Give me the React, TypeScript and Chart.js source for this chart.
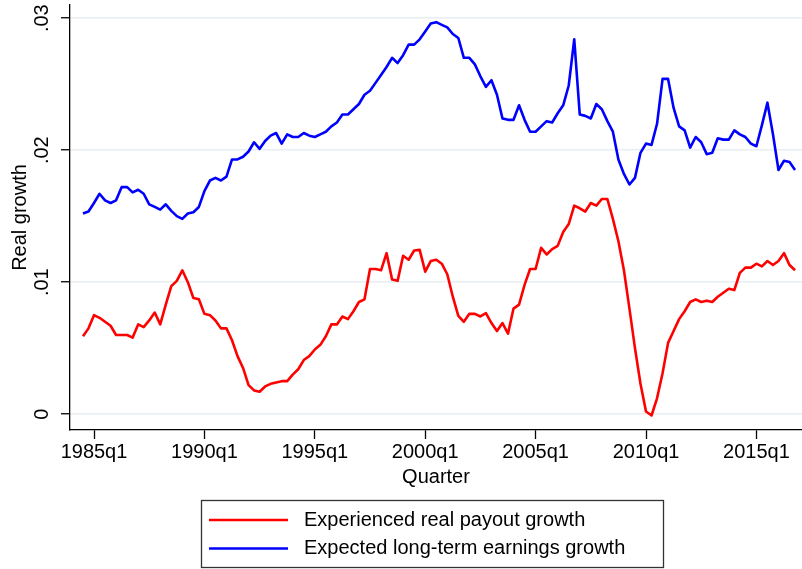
import { useEffect, useRef } from 'react';
import { Chart, registerables } from 'chart.js';

Chart.register(...registerables);

// Categories: quarters 1984q3 .. 2016q4
const FIRST_YEAR = 1984;
const FIRST_QUARTER = 3;
const N_QUARTERS = 130;
const quarters: string[] = [];
for (let i = 0; i < N_QUARTERS; i++) {
  const t = FIRST_QUARTER - 1 + i;
  quarters.push(`${FIRST_YEAR + Math.floor(t / 4)}q${(t % 4) + 1}`);
}

const payoutGrowth = [
  0.0059, 0.0065, 0.0075, 0.0073, 0.0070, 0.0067, 0.0060, 0.0060, 0.0060, 0.0058,
  0.0068, 0.0066, 0.0071, 0.0077, 0.0068, 0.0083, 0.0097, 0.0101, 0.0109, 0.0100,
  0.0088, 0.0087, 0.0076, 0.0075, 0.0071, 0.0065, 0.0065, 0.0056, 0.0044, 0.0035,
  0.0022, 0.0018, 0.0017, 0.0021, 0.0023, 0.0024, 0.0025, 0.0025, 0.0030, 0.0034,
  0.0041, 0.0044, 0.0049, 0.00525, 0.0059, 0.0068, 0.0068, 0.0074, 0.0072, 0.0078,
  0.0085, 0.0087, 0.0110, 0.0110, 0.0109, 0.0122, 0.0102, 0.0101, 0.0120, 0.0117,
  0.0124, 0.01245, 0.0108, 0.0116, 0.0117, 0.0114, 0.0106, 0.0089, 0.00745, 0.0070,
  0.0076, 0.0076, 0.0074, 0.00765, 0.0069, 0.0063, 0.0069, 0.0061, 0.0080, 0.0083,
  0.0098, 0.0110, 0.0110, 0.0126, 0.0121, 0.0125, 0.01275, 0.0138, 0.0144, 0.0158,
  0.0156, 0.01535, 0.0160, 0.0158, 0.0163, 0.0163, 0.0148, 0.0131, 0.0109, 0.0080,
  0.0050, 0.0023, 0.0002, -0.0001, 0.0012, 0.0031, 0.0054, 0.0063, 0.0072, 0.0078,
  0.0085, 0.0087, 0.0085, 0.0086, 0.0085, 0.0089, 0.0092, 0.0095, 0.0094, 0.0107,
  0.0111, 0.0111, 0.0114, 0.0112, 0.0116, 0.0113, 0.0116, 0.0122, 0.0113, 0.0109,
];

const earningsGrowth = [
  0.0152, 0.01535, 0.0160, 0.0167, 0.0162, 0.0160, 0.0162, 0.0172, 0.0172, 0.0168,
  0.0170, 0.0167, 0.0159, 0.0157, 0.0155, 0.0159, 0.0154, 0.0150, 0.0148, 0.0152,
  0.0153, 0.0157, 0.0169, 0.0177, 0.0179, 0.0177, 0.0180, 0.0193, 0.0193, 0.0195,
  0.0199, 0.0206, 0.0201, 0.0207, 0.0211, 0.0213, 0.0205, 0.0212, 0.0210, 0.0210,
  0.0213, 0.0211, 0.0210, 0.0212, 0.0214, 0.0218, 0.0221, 0.0227, 0.0227, 0.0231,
  0.0235, 0.0242, 0.0245, 0.0251, 0.0257, 0.0263, 0.0270, 0.0266, 0.0272, 0.0280,
  0.0280, 0.0284, 0.0290, 0.0296, 0.0297, 0.0295, 0.0293, 0.0288, 0.0285, 0.0270,
  0.0270, 0.0265, 0.0256, 0.0248, 0.0253, 0.0242, 0.0224, 0.0223, 0.0223, 0.0234,
  0.0223, 0.0214, 0.0214, 0.0218, 0.0222, 0.0221, 0.0228, 0.0234, 0.0249, 0.0284,
  0.0227, 0.0226, 0.0224, 0.0235, 0.0231, 0.0222, 0.0214, 0.0193, 0.0182, 0.0174,
  0.0179, 0.0198, 0.0205, 0.0204, 0.0220, 0.0254, 0.0254, 0.0232, 0.0218, 0.0215,
  0.0202, 0.0210, 0.0206, 0.0197, 0.0198, 0.0209, 0.0208, 0.0208, 0.0215, 0.0212,
  0.0210, 0.0205, 0.0203, 0.0219, 0.0236, 0.0212, 0.0185, 0.0192, 0.0191, 0.0185,
];

const xTickLabels = ['1985q1', '1990q1', '1995q1', '2000q1', '2005q1', '2010q1', '2015q1'];
const yTickValues = [0, 0.01, 0.02, 0.03];
const yTickLabels = ['0', '.01', '.02', '.03'];

const seriesLabels = ['Experienced real payout growth', 'Expected long-term earnings growth'];
const seriesColors = ['#ff0000', '#0000ff'];

const FONT_FAMILY = '"Liberation Sans", Arial, Helvetica, sans-serif';

function quarterToNum(s: string): number {
  const [y, q] = s.split('q');
  return Number(y) + (Number(q) - 1) / 4;
}

const boxLegend = {
  id: 'boxLegend',
  afterDraw(chart: any) {
    const ctx = chart.ctx as CanvasRenderingContext2D;
    ctx.save();
    ctx.strokeStyle = '#333333';
    ctx.lineWidth = 1.3;
    ctx.strokeRect(201.5, 500.5, 462, 67);
    chart.data.datasets.forEach((ds: any, i: number) => {
      const y = 520 + i * 28.5;
      ctx.strokeStyle = ds.borderColor;
      ctx.lineWidth = 2.6;
      ctx.beginPath();
      ctx.moveTo(209, y);
      ctx.lineTo(288, y);
      ctx.stroke();
      ctx.fillStyle = '#000000';
      ctx.font = `20px ${FONT_FAMILY}`;
      ctx.textBaseline = 'middle';
      ctx.textAlign = 'left';
      ctx.fillText(ds.label, 304, y);
    });
    ctx.restore();
  },
};

export default function App() {
  const canvasRef = useRef<HTMLCanvasElement | null>(null);

  useEffect(() => {
    if (!canvasRef.current) return;
    const series = [payoutGrowth, earningsGrowth];
    const chart = new Chart(canvasRef.current, {
      type: 'line',
      data: {
        datasets: series.map((vals, si) => ({
          label: seriesLabels[si],
          data: quarters.map((q, i) => ({ x: quarterToNum(q), y: vals[i] })),
          borderColor: seriesColors[si],
          backgroundColor: seriesColors[si],
          borderWidth: 2.6,
          borderJoinStyle: 'round' as const,
          pointRadius: 0,
          tension: 0,
          fill: false,
        })),
      },
      options: {
        animation: false,
        responsive: false,
        maintainAspectRatio: false,
        layout: { padding: { left: 0, right: 0, top: 5, bottom: 0 } },
        plugins: {
          legend: { display: false },
          tooltip: { enabled: false },
        },
        scales: {
          x: {
            type: 'linear',
            min: 1983.913,
            max: 2017.065,
            afterBuildTicks: (s: any) => {
              s.ticks = xTickLabels.map((l) => ({ value: quarterToNum(l) }));
            },
            afterFit: (s: any) => {
              s.height = 139;
              s.paddingLeft = 0;
              s.paddingRight = 0;
              s.paddingTop = 0;
              s.paddingBottom = 0;
            },
            ticks: {
              callback: (_v: any, i: number) => xTickLabels[i],
              color: '#000000',
              font: { size: 20, family: FONT_FAMILY },
              padding: 1,
              minRotation: 0,
              maxRotation: 0,
              autoSkip: false,
            },
            grid: {
              drawOnChartArea: false,
              drawTicks: true,
              tickLength: 9,
              tickColor: '#000000',
              tickWidth: 1.3,
            },
            border: { display: true, color: '#000000', width: 1.3 },
            title: {
              display: true,
              text: 'Quarter',
              color: '#000000',
              font: { size: 20, family: FONT_FAMILY },
              padding: { top: 0, bottom: 80 },
            },
          },
          y: {
            type: 'linear',
            min: -0.0012,
            max: 0.031,
            afterBuildTicks: (s: any) => {
              s.ticks = yTickValues.map((v) => ({ value: v }));
            },
            afterFit: (s: any) => {
              s.width = 70;
              s.paddingLeft = 0;
              s.paddingRight = 0;
              s.paddingTop = 0;
              s.paddingBottom = 0;
            },
            ticks: {
              callback: (_v: any, i: number) => yTickLabels[i],
              color: '#000000',
              font: { size: 20, family: FONT_FAMILY },
              minRotation: 90,
              maxRotation: 90,
              crossAlign: 'center',
              padding: 5,
            },
            grid: {
              color: '#e8eef2',
              lineWidth: 1.5,
              drawTicks: true,
              tickLength: 9,
              tickColor: '#000000',
              tickWidth: 1.3,
            },
            border: { display: true, color: '#000000', width: 1.3 },
            title: {
              display: true,
              text: 'Real growth',
              color: '#000000',
              font: { size: 20, family: FONT_FAMILY },
              padding: { top: 8, bottom: 0 },
            },
          },
        },
      } as any,
      plugins: [boxLegend],
    });
    return () => chart.destroy();
  }, []);

  return (
    <div style={{ position: 'absolute', left: 0, top: 0, width: 802, height: 569, background: '#ffffff' }}>
      <canvas ref={canvasRef} width={802} height={569} style={{ display: 'block', width: 802, height: 569 }} />
    </div>
  );
}
